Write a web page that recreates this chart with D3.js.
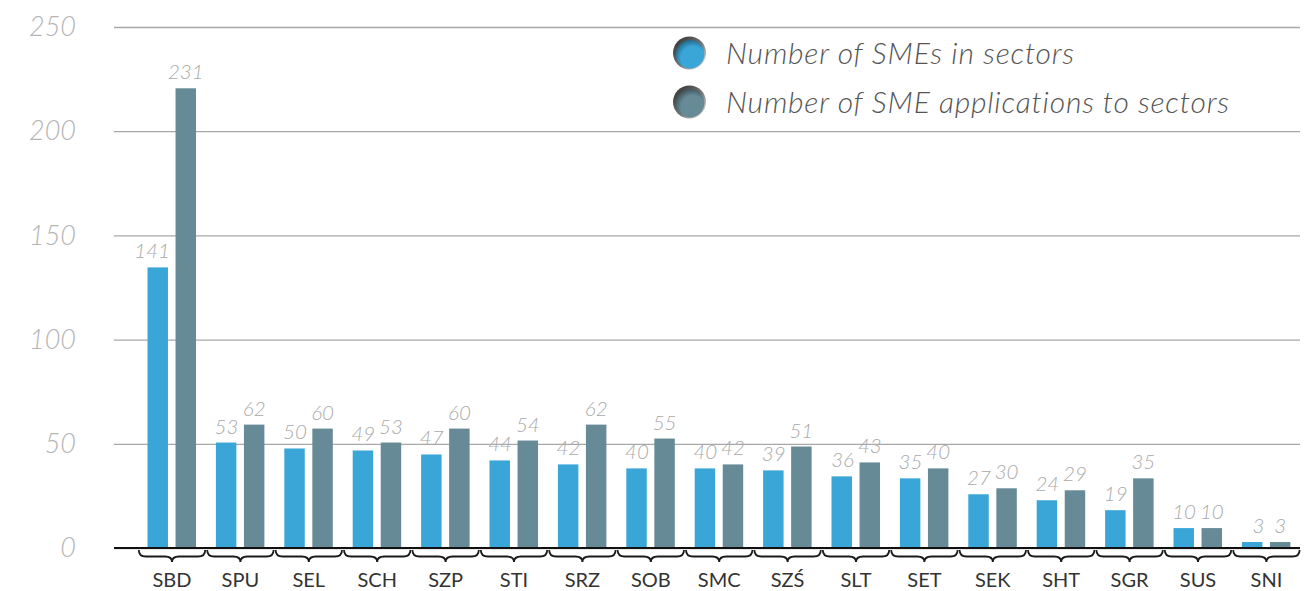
<!DOCTYPE html>
<html>
<head>
<meta charset="utf-8">
<script src="https://cdn.jsdelivr.net/npm/d3@7"></script>
<style>
  body { margin: 0; background: #fff; }
  svg { display: block; font-family: Lato, "Open Sans", sans-serif; }
</style>
</head>
<body>
<svg width="1309" height="591"></svg>
<script>
const svg = d3.select("svg");

// Data
const sectors = ["SBD", "SPU", "SEL", "SCH", "SZP", "STI", "SRZ", "SOB", "SMC", "SZŚ", "SLT", "SET", "SEK", "SHT", "SGR", "SUS", "SNI"];
const smeCounts = [141, 53, 50, 49, 47, 44, 42, 40, 40, 39, 36, 35, 27, 24, 19, 10, 3];
const applicationCounts = [231, 62, 60, 53, 60, 54, 62, 55, 42, 51, 43, 40, 30, 29, 35, 10, 3];
const seriesNames = ["Number of SMEs in sectors", "Number of SME applications to sectors"];
const seriesColors = ["#3aa6d8", "#668a96"];
const yTicks = [0, 50, 100, 150, 200, 250];

const plotLeft = 114, plotRight = 1300, plotTop = 27, plotBottom = 548;

const x = d3.scaleBand().domain(sectors).range([137.8, 1300.6]);
const xInner = d3.scaleBand().domain([0, 1]).range([-24.5, 24]).paddingInner(0.27);
// axis scale for grid / tick labels
const y = d3.scaleLinear().domain([0, 250]).range([plotBottom, plotTop]);
// bars in the original are drawn slightly shorter than the grid suggests
const yBar = d3.scaleLinear().domain([0, 261.8]).range([plotBottom, plotTop]);

// Gridlines + tick labels
const yAxis = svg.append("g")
    .attr("transform", `translate(${plotLeft},0)`)
    .call(d3.axisLeft(y).tickValues(yTicks).tickSize(-(plotRight - plotLeft)).tickPadding(38));
yAxis.select(".domain").remove();
yAxis.selectAll(".tick line").attr("stroke", "#a8a8a8").attr("stroke-width", 1.3);
yAxis.selectAll(".tick text")
    .attr("fill", "#b5b5b5")
    .style("font-size", "27px")
    .style("font-style", "italic")
    .style("font-weight", 300)
    .style("font-family", "Lato, sans-serif");

// Bars
const rows = sectors.map((s, i) => ({ sector: s, values: [smeCounts[i], applicationCounts[i]] }));

const groups = svg.append("g").selectAll("g")
    .data(rows)
    .enter().append("g")
    .attr("transform", d => `translate(${x(d.sector) + x.bandwidth() / 2},0)`);

groups.selectAll("rect")
    .data(d => d.values.map((v, k) => ({ k, v })))
    .enter().append("rect")
    .attr("x", d => xInner(d.k))
    .attr("y", d => yBar(d.v))
    .attr("width", xInner.bandwidth())
    .attr("height", d => plotBottom - yBar(d.v))
    .attr("fill", d => seriesColors[d.k]);

// Value labels
groups.selectAll(".label")
    .data(d => d.values.map((v, k) => ({ k, v })))
    .enter().append("text")
    .attr("class", "label")
    .attr("x", d => d.k === 0 ? xInner(0) + xInner.bandwidth() + 2 : xInner(1) + xInner.bandwidth() / 2)
    .attr("y", d => yBar(d.v) - 9)
    .attr("text-anchor", d => d.k === 0 ? "end" : "middle")
    .attr("fill", "#aaaaaa")
    .style("font-size", "20.5px")
    .style("font-style", "italic")
    .style("font-weight", 300)
    .text(d => d.v);

// Baseline
svg.append("line")
    .attr("x1", plotLeft).attr("x2", plotRight)
    .attr("y1", plotBottom).attr("y2", plotBottom)
    .attr("stroke", "#111").attr("stroke-width", 2);

// Curly braces under each group
const brace = (w) => {
    const t = 551, h = 5.5, p = 11, r = 7, m = w / 2;
    return `M1,${t - 1} Q1,${t + h} ${1 + r},${t + h} L${m - r},${t + h} Q${m},${t + h} ${m},${t + p}` +
        ` Q${m},${t + h} ${m + r},${t + h} L${w - 1 - r},${t + h} Q${w - 1},${t + h} ${w - 1},${t - 1}`;
};
svg.append("g").selectAll("path")
    .data(sectors)
    .enter().append("path")
    .attr("transform", d => `translate(${x(d)},0)`)
    .attr("d", brace(x.bandwidth()))
    .attr("fill", "none")
    .attr("stroke", "#1a1a1a")
    .attr("stroke-width", 1.8);

// Category labels
svg.append("g").selectAll("text")
    .data(sectors)
    .enter().append("text")
    .attr("x", d => x(d) + x.bandwidth() / 2)
    .attr("y", 587)
    .attr("text-anchor", "middle")
    .attr("fill", "#333")
    .style("font-size", "20px")
    .text(d => d);

// Legend
const defs = svg.append("defs");
const rim = defs.append("linearGradient").attr("id", "rim")
    .attr("x1", "0%").attr("y1", "0%").attr("x2", "100%").attr("y2", "100%");
rim.append("stop").attr("offset", "0%").attr("stop-color", "#2a2a2a");
rim.append("stop").attr("offset", "55%").attr("stop-color", "#777");
rim.append("stop").attr("offset", "100%").attr("stop-color", "#f2f2f2");
seriesColors.forEach((c, i) => {
    const g = defs.append("radialGradient").attr("id", "dot" + i)
        .attr("cx", "60%").attr("cy", "65%").attr("r", "70%");
    g.append("stop").attr("offset", "0%").attr("stop-color", c);
    g.append("stop").attr("offset", "60%").attr("stop-color", c);
    g.append("stop").attr("offset", "100%").attr("stop-color", d3.color(c).darker(1.6));
});

const legend = svg.append("g").selectAll("g")
    .data(seriesNames)
    .enter().append("g")
    .attr("transform", (d, i) => `translate(689.5,${53 + i * 49})`);
legend.append("circle").attr("r", 16.5).attr("fill", "url(#rim)");
legend.append("circle").attr("cx", 0.6).attr("cy", 1.2).attr("r", 14.2)
    .attr("fill", (d, i) => `url(#dot${i})`);
legend.append("text")
    .attr("x", 36.5)
    .attr("y", 11)
    .attr("fill", "#555")
    .style("font-size", "30px")
    .style("letter-spacing", "0.8px")
    .style("font-style", "italic")
    .style("font-weight", 300)
    .text(d => d);
</script>
</body>
</html>
